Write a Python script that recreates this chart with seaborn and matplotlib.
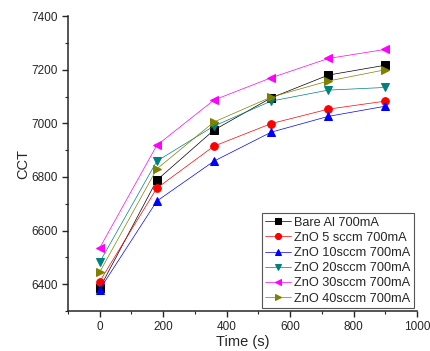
import matplotlib
matplotlib.use("Agg")
import matplotlib.pyplot as plt
import seaborn as sns
import pandas as pd
from matplotlib.ticker import MultipleLocator

time_s = [0, 180, 360, 540, 720, 900]
bare_al = [6385, 6788, 6975, 7095, 7180, 7217]
zno_5 = [6410, 6758, 6915, 6999, 7053, 7083]
zno_10 = [6380, 6710, 6859, 6967, 7026, 7064]
zno_20 = [6482, 6859, 6990, 7083, 7124, 7134]
zno_30 = [6535, 6918, 7087, 7170, 7242, 7276]
zno_40 = [6445, 6830, 7005, 7098, 7158, 7200]

labels = ["Bare Al 700mA", "ZnO 5 sccm 700mA", "ZnO 10sccm 700mA",
          "ZnO 20sccm 700mA", "ZnO 30sccm 700mA", "ZnO 40sccm 700mA"]
series = [bare_al, zno_5, zno_10, zno_20, zno_30, zno_40]
colors = ["#000000", "#ff0000", "#0000ff", "#008080", "#ff00ff", "#808000"]
markers = ["s", "o", "^", "v", "<", ">"]

rows = []
for lab, vals in zip(labels, series):
    for t, v in zip(time_s, vals):
        rows.append({"Time (s)": t, "CCT": v, "sample": lab})
df = pd.DataFrame(rows)

sns.set_style("ticks")
plt.rcParams["font.family"] = ["Liberation Sans", "DejaVu Sans"]

fig = plt.figure(figsize=(4.3, 3.51), dpi=100)
ax = fig.add_axes([0.158, 0.114, 0.812, 0.84])

for lab, col, mk in zip(labels, colors, markers):
    sub = df[df["sample"] == lab]
    sns.lineplot(data=sub, x="Time (s)", y="CCT", ax=ax, color=col,
                 linewidth=0.5, marker=mk, markersize=5.5,
                 markeredgecolor=col, markerfacecolor=col, label=lab)

ax.set_xlim(-100, 1000)
ax.set_ylim(6300, 7400)
ax.xaxis.set_major_locator(MultipleLocator(200))
ax.xaxis.set_minor_locator(MultipleLocator(100))
ax.yaxis.set_major_locator(MultipleLocator(200))
ax.yaxis.set_minor_locator(MultipleLocator(100))
ax.tick_params(axis="both", which="major", length=4, width=1,
               direction="out", labelsize=8.5, pad=3)
ax.tick_params(axis="both", which="minor", length=2.5, width=0.8,
               direction="out")
for s in ["left", "bottom"]:
    ax.spines[s].set_linewidth(1.1)
sns.despine(ax=ax)
ax.set_xlabel("Time (s)", fontsize=10.5, labelpad=2)
ax.set_ylabel("CCT", fontsize=10.5, labelpad=1)

leg = ax.legend(loc="lower right", fontsize=9.2, frameon=True, fancybox=False,
                edgecolor="#555555", framealpha=1, borderpad=0.25,
                labelspacing=0.25, handlelength=2.0, handletextpad=0.3,
                borderaxespad=0.25, markerscale=0.8)
leg.get_frame().set_linewidth(0.8)

fig.savefig("out.png", dpi=100)
